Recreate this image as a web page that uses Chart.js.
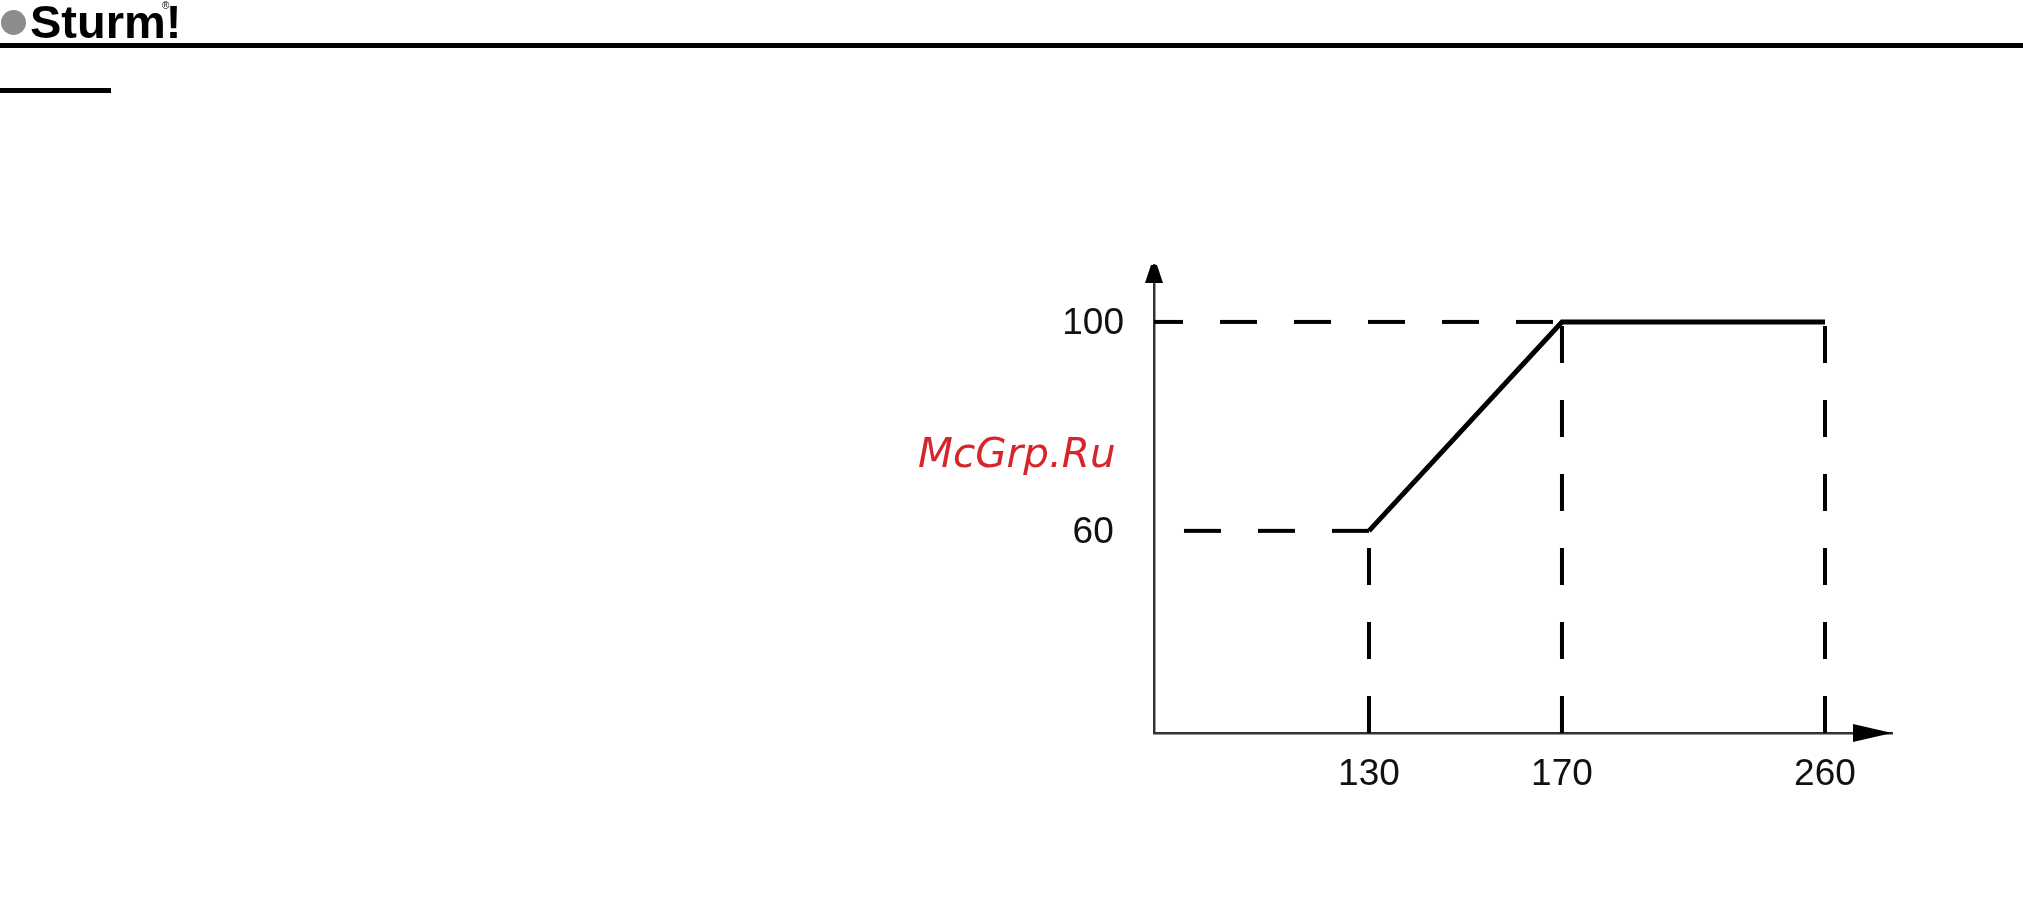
<!DOCTYPE html>
<html>
<head>
<meta charset="utf-8">
<script src="https://cdn.jsdelivr.net/npm/chart.js@4.4.0/dist/chart.umd.min.js"></script>
<style>
  body { margin: 0; background: #fff; overflow: hidden; }
  #wrap { position: relative; width: 2023px; height: 904px; }
  #chart { position: absolute; left: 0; top: 0; }
  .dot { position: absolute; left: 1px; top: 10px; width: 25px; height: 25px; border-radius: 50%; background: #8c8c8c; }
  .brand { position: absolute; left: 30px; top: -2px; font: bold 47px/1 "Liberation Sans", Arial, sans-serif; color: #000; }
  .reg { position: absolute; left: 162px; top: 1px; font: 10px/1 "Liberation Sans", Arial, sans-serif; color: #000; }
  .rule { position: absolute; left: 0; top: 43px; width: 2023px; height: 5px; background: #000; }
  .rule2 { position: absolute; left: 0; top: 88px; width: 111px; height: 5px; background: #000; }
  .wm { position: absolute; left: 918px; top: 433px; font: oblique 40.5px/1 "DejaVu Sans", sans-serif; color: #d7262b; }
</style>
</head>
<body>
<div id="wrap">
  <canvas id="chart" width="2023" height="904"></canvas>
  <div class="dot"></div>
  <div class="brand">Sturm!</div>
  <div class="reg">®</div>
  <div class="rule"></div>
  <div class="rule2"></div>
  <div class="wm">McGrp.Ru</div>
</div>
<script>
// data
const curveX = [130, 170, 260];
const curveY = [60, 100, 100];
const xTicks = [130, 170, 260];
const yTicks = [60, 100];
const xMin = 100, xMax = 280;
const yMin = 21.3, yMax = 110.9;

// the x axis of the drawing is not to scale, so map it piece by piece
class PiecewiseScale extends Chart.LinearScale {
  toDecimal(v) {
    const k = this.options.knots;
    if (v <= k[0][0]) return k[0][1];
    for (let i = 1; i < k.length; i++) {
      if (v <= k[i][0]) {
        const t = (v - k[i - 1][0]) / (k[i][0] - k[i - 1][0]);
        return k[i - 1][1] + t * (k[i][1] - k[i - 1][1]);
      }
    }
    return k[k.length - 1][1];
  }
  getPixelForValue(value) {
    return this.getPixelForDecimal(this.toDecimal(value));
  }
  getValueForPixel(pixel) {
    const d = this.getDecimalForPixel(pixel);
    const k = this.options.knots;
    for (let i = 1; i < k.length; i++) {
      if (d <= k[i][1]) {
        const t = (d - k[i - 1][1]) / (k[i][1] - k[i - 1][1]);
        return k[i - 1][0] + t * (k[i][0] - k[i - 1][0]);
      }
    }
    return k[k.length - 1][0];
  }
}
PiecewiseScale.id = 'piecewise';
PiecewiseScale.defaults = {};
Chart.register(PiecewiseScale);

const curve = curveX.map((x, i) => ({ x: x, y: curveY[i] }));

function guide(points, offset) {
  return {
    data: points,
    borderColor: '#000',
    borderWidth: 4,
    borderDash: [37, 37],
    borderDashOffset: offset,
    pointRadius: 0,
    tension: 0,
    fill: false
  };
}

const datasets = [{
  data: curve,
  borderColor: '#000',
  borderWidth: 5,
  pointRadius: 0,
  tension: 0,
  fill: false
}];
// drop lines from every breakpoint down to the x axis
curve.forEach(p => datasets.push(guide([{ x: p.x, y: yMin }, p], 0)));
// level lines back to the y axis
datasets.push(guide([curve[0], { x: xMin, y: curve[0].y }], 0));
datasets.push(guide([{ x: xMin, y: curve[1].y }, curve[1]], 8));

const arrows = {
  id: 'arrows',
  afterDraw(chart) {
    const c = chart.ctx, a = chart.chartArea;
    c.save();
    c.fillStyle = '#000';
    c.beginPath();
    c.moveTo(a.left - 3, a.top);
    c.lineTo(a.left + 3, a.top);
    c.lineTo(a.left + 9, a.top + 18);
    c.lineTo(a.left - 9, a.top + 18);
    c.closePath();
    c.fill();
    c.beginPath();
    c.moveTo(a.right, a.bottom);
    c.lineTo(a.right - 39, a.bottom - 9);
    c.lineTo(a.right - 39, a.bottom + 9);
    c.closePath();
    c.fill();
    c.restore();
  }
};

const tickFont = { family: '"Liberation Sans", Arial, sans-serif', size: 37 };

new Chart(document.getElementById('chart'), {
  type: 'line',
  data: { datasets: datasets },
  plugins: [arrows],
  options: {
    responsive: false,
    devicePixelRatio: 1,
    animation: false,
    layout: { padding: { top: 265, right: 131, bottom: 0, left: 0 } },
    plugins: { legend: { display: false }, tooltip: { enabled: false } },
    scales: {
      x: {
        type: 'piecewise',
        min: xMin,
        max: xMax,
        knots: [[xMin, 0], [130, 0.2913], [170, 0.5528], [260, 0.9092], [xMax, 1]],
        afterBuildTicks: s => { s.ticks = xTicks.map(v => ({ value: v })); },
        afterFit: s => { s.height = 171; },
        grid: { display: false, drawTicks: false },
        border: { display: true, color: '#333', width: 2.5 },
        ticks: { color: '#111', font: tickFont, padding: 20, maxRotation: 0, autoSkip: false }
      },
      y: {
        type: 'linear',
        min: yMin,
        max: yMax,
        afterBuildTicks: s => { s.ticks = yTicks.map(v => ({ value: v })); },
        afterFit: s => { s.width = 1154; },
        grid: { display: false, drawTicks: false },
        border: { display: true, color: '#333', width: 2.5 },
        ticks: { color: '#111', font: tickFont, padding: 30, crossAlign: 'center', labelOffset: 2, autoSkip: false }
      }
    }
  }
});
</script>
</body>
</html>
